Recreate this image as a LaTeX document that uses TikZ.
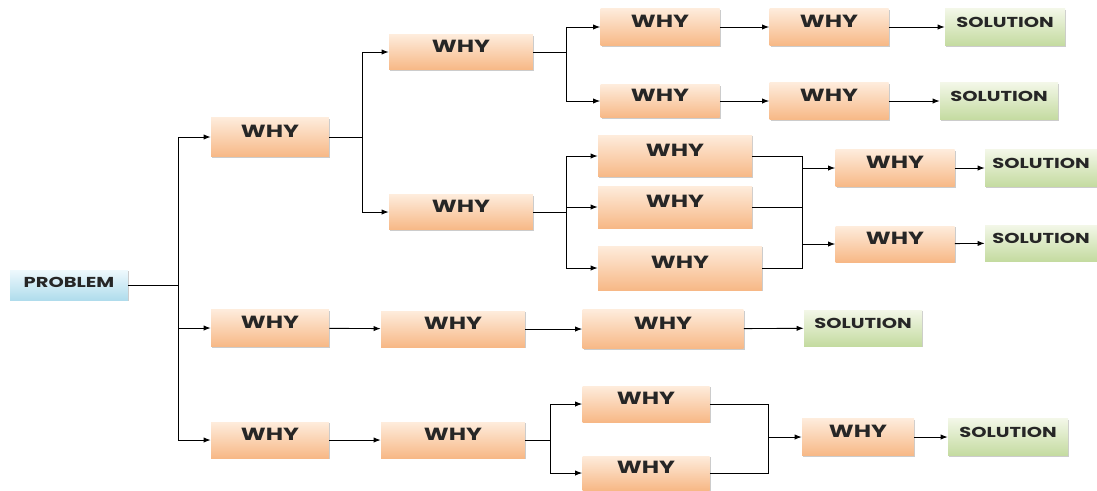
\documentclass[tikz,border=0pt]{standalone}
\usepackage{fontspec}
\setmainfont{Poppins}[FakeStretch=1.35]
\usepackage{tikz}
\usetikzlibrary{arrows.meta,shadows,calc}

\definecolor{whylight}{RGB}{254,236,220}
\definecolor{whydark}{RGB}{247,184,134}
\definecolor{sollight}{RGB}{243,247,232}
\definecolor{soldark}{RGB}{196,219,160}
\definecolor{problight}{RGB}{238,249,253}
\definecolor{probdark}{RGB}{176,220,236}

\begin{document}
\begin{tikzpicture}[x=0.02cm, y=-0.02cm,
    box/.style={rectangle, inner sep=1pt, text height=0.3cm, text depth=0.28cm,
        font=\bfseries, text=black!85,
        drop shadow={shadow xshift=0.8pt, shadow yshift=-0.8pt, fill=black!40, opacity=0.5}},
    why/.style={box, top color=whylight, bottom color=whydark, font=\bfseries\fontsize{10}{11}\selectfont,
        minimum width=2.36cm, minimum height=0.74cm},
    sol/.style={box, top color=sollight, bottom color=soldark, font=\bfseries\fontsize{8.2}{9}\selectfont,
        minimum width=2.36cm, minimum height=0.74cm},
    prob/.style={box, top color=problight, bottom color=probdark, font=\bfseries\fontsize{8.2}{9}\selectfont,
        text height=0.26cm, text depth=0.18cm, minimum width=2.36cm, minimum height=0.6cm},
    arr/.style={-{Latex[length=4pt,width=3pt]}, line width=0.5pt},
    ln/.style={line width=0.5pt}]
        \useasboundingbox (0,0) rectangle (1097,490);

        % boxes
        \node[prob] (p) at (69,285) {PROBLEM};

        \node[why, minimum height=0.78cm] (a) at (270,137) {WHY};
        \node[why] (b) at (270,328) {WHY};
        \node[why, minimum height=0.72cm] (c) at (270,440) {WHY};

        \node[why, minimum width=2.88cm, minimum height=0.7cm] (a1) at (461,52) {WHY};
        \node[why, minimum width=2.88cm, minimum height=0.7cm] (a2) at (461,212) {WHY};

        \node[why, minimum width=2.38cm] (a11) at (660,27) {WHY};
        \node[why, minimum width=2.38cm] (a12) at (829,27) {WHY};
        \node[sol, minimum width=2.4cm] (s11) at (1005,27) {SOLUTION};
        \node[why, minimum width=2.38cm, minimum height=0.66cm] (a21) at (660,101) {WHY};
        \node[why, minimum width=2.38cm] (a22) at (829,101) {WHY};
        \node[sol] (s21) at (999,101) {SOLUTION};

        \node[why, minimum width=3.08cm, minimum height=0.84cm] (m1) at (675,156) {WHY};
        \node[why, minimum width=3.08cm, minimum height=0.84cm] (m2) at (675,207) {WHY};
        \node[why, minimum width=3.28cm, minimum height=0.88cm] (m3) at (680,268) {WHY};
        \node[why, minimum width=2.38cm] (n1) at (895,168) {WHY};
        \node[why, minimum width=2.38cm, minimum height=0.72cm] (n2) at (895,244) {WHY};
        \node[sol, minimum width=2.24cm] (s1) at (1041,168) {SOLUTION};
        \node[sol, minimum width=2.24cm, minimum height=0.72cm] (s2) at (1041,243) {SOLUTION};

        \node[why, minimum width=2.88cm, minimum height=0.72cm] (b2) at (453,329) {WHY};
        \node[why, minimum width=3.22cm, minimum height=0.78cm] (b3) at (663,329) {WHY};
        \node[sol, minimum height=0.72cm] (b4) at (863,328) {SOLUTION};

        \node[why, minimum width=2.88cm, minimum height=0.72cm] (c2) at (453,440) {WHY};
        \node[why, minimum width=2.54cm, minimum height=0.72cm] (c3) at (646,404) {WHY};
        \node[why, minimum width=2.54cm, minimum height=0.68cm] (c4) at (646,473) {WHY};
        \node[why, minimum width=2.24cm] (c5) at (858,437) {WHY};
        \node[sol, minimum width=2.4cm] (c6) at (1008,437) {SOLUTION};

        % junctions
        \coordinate (j0) at (178,285);
        \coordinate (j1) at (362,137);
        \coordinate (j2) at (566,52);
        \coordinate (j3) at (566,212);
        \coordinate (j4) at (550,440);
        \coordinate (k1) at (802,168);
        \coordinate (k2) at (802,244);
        \coordinate (k3) at (768,437);

        % connectors
        \draw[ln] (p) -- (j0);
        \draw[arr] (j0) |- (a.west);
        \draw[arr] (j0) |- (b.west);
        \draw[arr] (j0) |- (c.west);

        \draw[ln] (a) -- (j1);
        \draw[arr] (j1) |- (a1.west);
        \draw[arr] (j1) |- (a2.west);

        \draw[ln] (a1) -- (j2);
        \draw[arr] (j2) |- (a11.west);
        \draw[arr] (j2) |- (a21.west);
        \draw[arr] (a11) -- (a12);
        \draw[arr] (a12) -- (s11);
        \draw[arr] (a21) -- (a22);
        \draw[arr] (a22) -- (s21);

        \draw[ln] (a2) -- (j3);
        \draw[arr] (j3) |- (m1.west);
        \draw[arr] (j3) |- (m2.west);
        \draw[arr] (j3) |- (m3.west);
        \draw[ln] (m1.east) -| (k1);
        \draw[ln] (m2.east) -| (k1);
        \draw[ln] (m3.east) -| (k1);
        \draw[arr] (k1) -- (n1);
        \draw[arr] (k2) -- (n2);
        \draw[arr] (n1) -- (s1);
        \draw[arr] (n2) -- (s2);

        \draw[arr] (b) -- (b2);
        \draw[arr] (b2) -- (b3);
        \draw[arr] (b3) -- (b4);

        \draw[arr] (c) -- (c2);
        \draw[ln] (c2) -- (j4);
        \draw[arr] (j4) |- (c3.west);
        \draw[arr] (j4) |- (c4.west);
        \draw[ln] (c3.east) -| (k3);
        \draw[ln] (c4.east) -| (k3);
        \draw[arr] (k3) -- (c5);
        \draw[arr] (c5) -- (c6);
\end{tikzpicture}
\end{document}
